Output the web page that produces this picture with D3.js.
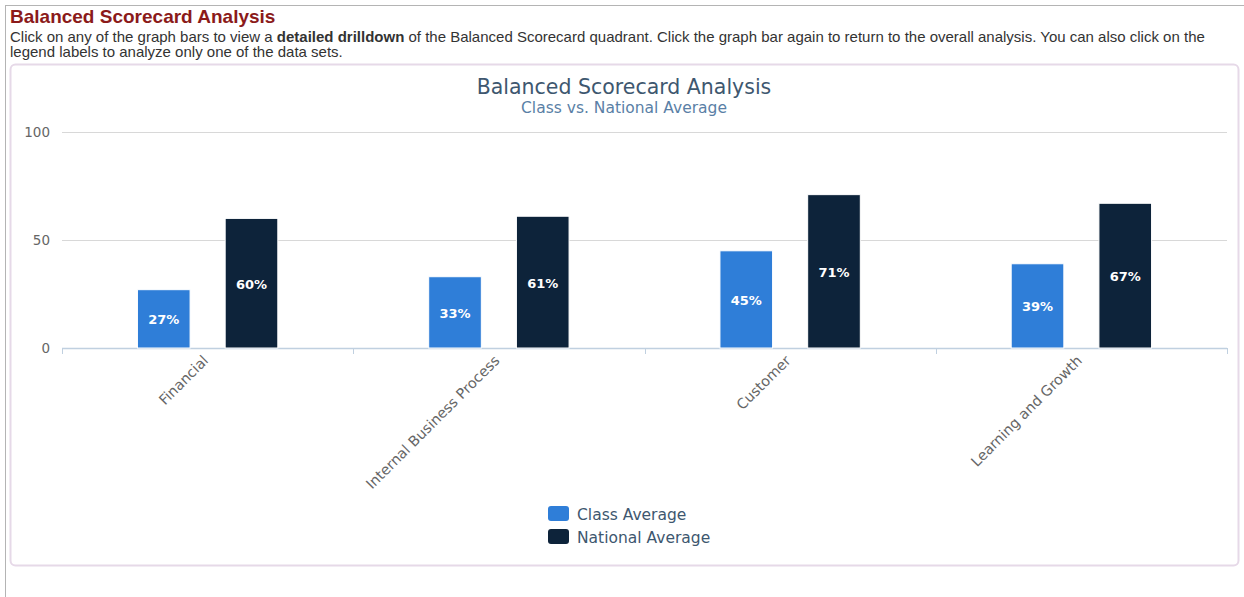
<!DOCTYPE html>
<html>
<head>
<meta charset="utf-8">
<script src="https://cdn.jsdelivr.net/npm/d3@7"></script>
<style>
  body { margin: 0; background: #fff; font-family: Arial, "Liberation Sans", sans-serif; }
  #frame { position: absolute; left: 5px; top: 5px; width: 1239px; height: 592px;
           border-left: 1px solid #b4b4b4; border-top: 1px solid #b4b4b4; }
  h1 { position: absolute; left: 10px; top: 7px; margin: 0; font-size: 19px; line-height: 20px; color: #8b1a1a; }
  p.desc { position: absolute; left: 10px; top: 29px; margin: 0; width: 1218px;
           font-size: 15px; line-height: 15px; color: #333; }
  #chart { position: absolute; left: 0; top: 0; }
</style>
</head>
<body>
<div id="frame"></div>
<h1>Balanced Scorecard Analysis</h1>
<p class="desc">Click on any of the graph bars to view a <b>detailed drilldown</b> of the Balanced Scorecard quadrant. Click the graph bar again to return to the overall analysis. You can also click on the legend labels to analyze only one of the data sets.</p>
<div id="chart"></div>
<script>
// data
var categories = ["Financial", "Internal Business Process", "Customer", "Learning and Growth"];
var seriesNames = ["Class Average", "National Average"];
var classAvg = [27, 33, 45, 39];
var nationalAvg = [60, 61, 71, 67];
var yTicks = [0, 50, 100];

var colors = {"Class Average": "#2f7ed8", "National Average": "#0d233a"};
var font = "'DejaVu Sans', Verdana, sans-serif";

var W = 1244, H = 597;
var plot = {left: 62, right: 1227, top: 132, bottom: 348};

var svg = d3.select("#chart").append("svg")
    .attr("width", W)
    .attr("height", H);

// chart box
svg.append("rect")
    .attr("x", 10.5).attr("y", 64.5)
    .attr("width", 1228).attr("height", 501)
    .attr("rx", 5)
    .attr("fill", "#fff")
    .attr("stroke", "#e6d9e8")
    .attr("stroke-width", 2);

// titles
svg.append("text")
    .attr("x", 624).attr("y", 94)
    .attr("text-anchor", "middle")
    .style("font-family", font).style("font-size", "20.5px")
    .attr("fill", "#3e576f")
    .text("Balanced Scorecard Analysis");

svg.append("text")
    .attr("x", 624).attr("y", 113)
    .attr("text-anchor", "middle")
    .style("font-family", font).style("font-size", "15.5px")
    .attr("fill", "#5a7fa6")
    .text("Class vs. National Average");

var x0 = d3.scaleBand()
    .domain(categories)
    .range([plot.left, plot.right]);

var x1 = d3.scaleBand()
    .domain(seriesNames)
    .range([0, x0.bandwidth()])
    .paddingInner(0.4)
    .paddingOuter(0.86);

var y = d3.scaleLinear()
    .domain([0, 100])
    .range([plot.bottom, plot.top]);

// y axis with grid lines
var yAxis = svg.append("g")
    .attr("transform", "translate(" + plot.left + ",0)")
    .call(d3.axisLeft(y).tickValues(yTicks).tickSize(-(plot.right - plot.left)).tickPadding(12));
yAxis.select(".domain").remove();
yAxis.selectAll("line").attr("stroke", "#d8d8d8");
yAxis.selectAll("text")
    .style("font-family", font).style("font-size", "13.5px")
    .attr("fill", "#666");

// x axis line + ticks at category edges
svg.append("line")
    .attr("x1", plot.left).attr("x2", plot.right)
    .attr("y1", plot.bottom + 0.5).attr("y2", plot.bottom + 0.5)
    .attr("stroke", "#c0d0e0").attr("stroke-width", 1.5);

var edges = categories.map(function(c) { return x0(c); }).concat([plot.right]);
svg.selectAll(".xtick")
    .data(edges)
  .enter().append("line")
    .attr("class", "xtick")
    .attr("x1", function(d) { return Math.round(d) + 0.5; })
    .attr("x2", function(d) { return Math.round(d) + 0.5; })
    .attr("y1", plot.bottom).attr("y2", plot.bottom + 6)
    .attr("stroke", "#c0d0e0");

// rotated category labels
svg.selectAll(".xlabel")
    .data(categories)
  .enter().append("text")
    .attr("class", "xlabel")
    .attr("transform", function(d) {
        return "translate(" + (x0(d) + x0.bandwidth() / 2 - 2) + "," + (plot.bottom + 10) + ") rotate(-45)";
    })
    .attr("text-anchor", "end")
    .attr("dy", "0.35em")
    .style("font-family", font).style("font-size", "14.3px")
    .attr("fill", "#666")
    .text(function(d) { return d; });

// bars
var rows = categories.map(function(c, i) {
    return {cat: c, values: [
        {name: "Class Average", v: classAvg[i]},
        {name: "National Average", v: nationalAvg[i]}
    ]};
});

var groups = svg.selectAll(".grp")
    .data(rows)
  .enter().append("g")
    .attr("class", "grp")
    .attr("transform", function(d) { return "translate(" + x0(d.cat) + ",0)"; });

groups.selectAll("rect")
    .data(function(d) { return d.values; })
  .enter().append("rect")
    .attr("x", function(d) { return x1(d.name); })
    .attr("y", function(d) { return y(d.v); })
    .attr("width", x1.bandwidth())
    .attr("height", function(d) { return y(0) - y(d.v); })
    .attr("fill", function(d) { return colors[d.name]; })
    .attr("stroke", "#fff")
    .attr("stroke-width", 1);

groups.selectAll(".lbl")
    .data(function(d) { return d.values; })
  .enter().append("text")
    .attr("class", "lbl")
    .attr("x", function(d) { return x1(d.name) + x1.bandwidth() / 2; })
    .attr("y", function(d) { return (y(d.v) + y(0)) / 2 + 2; })
    .attr("text-anchor", "middle")
    .attr("dominant-baseline", "middle")
    .style("font-family", font).style("font-size", "13px").style("font-weight", "bold")
    .attr("fill", "#fff")
    .text(function(d) { return d.v + "%"; });

// legend
var legend = svg.selectAll(".leg")
    .data(seriesNames)
  .enter().append("g")
    .attr("class", "leg")
    .attr("transform", function(d, i) { return "translate(548," + (506 + i * 23) + ")"; });

legend.append("rect")
    .attr("width", 21).attr("height", 15).attr("rx", 3)
    .attr("fill", function(d) { return colors[d]; });

legend.append("text")
    .attr("x", 29).attr("y", 9.5)
    .attr("dominant-baseline", "middle")
    .style("font-family", font).style("font-size", "15.5px")
    .attr("fill", "#3e576f")
    .text(function(d) { return d; });
</script>
</body>
</html>
